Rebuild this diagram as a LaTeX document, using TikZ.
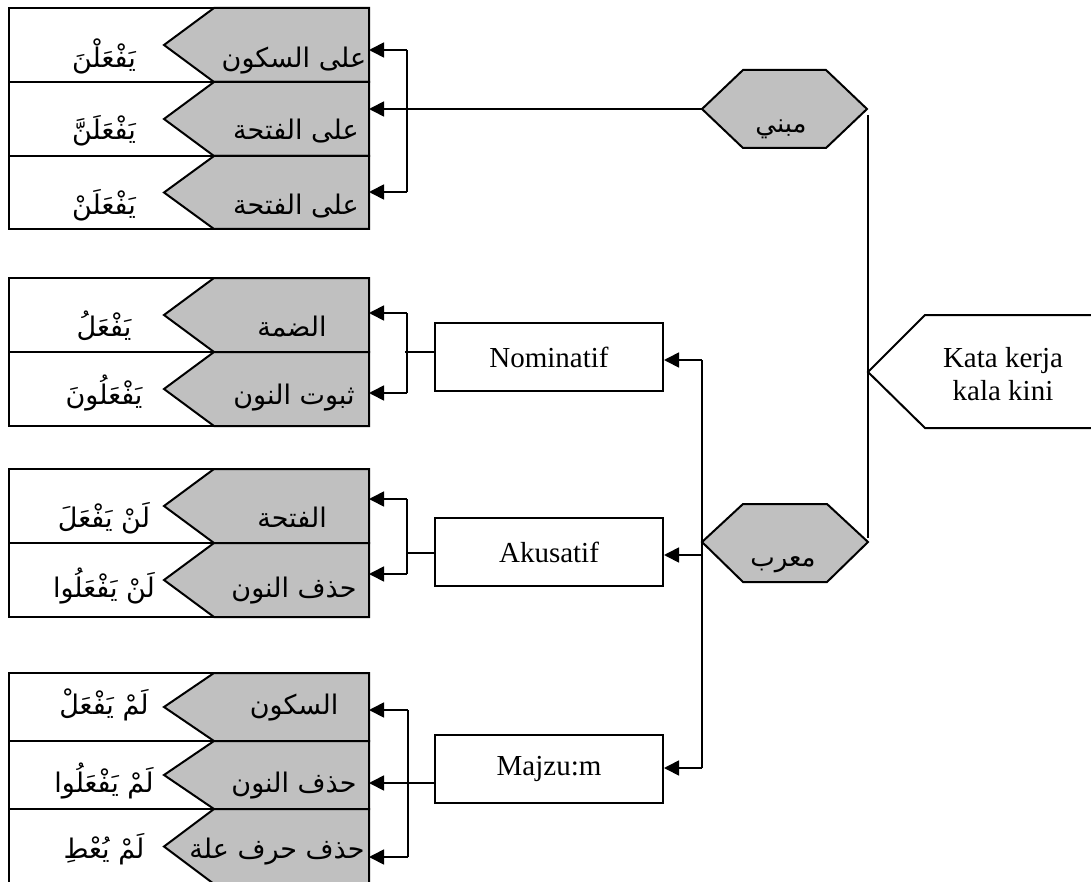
\documentclass[tikz,border=0pt]{standalone}
\usepackage{fontspec}
\setmainfont{Liberation Serif}
\newfontfamily\arabicfont[Script=Arabic]{DejaVu Sans}
\TeXXeTstate=1
\usetikzlibrary{arrows.meta}
\definecolor{shade}{RGB}{192,192,192}

\tikzset{
  frame/.style={line width=1pt, draw=black, line join=miter},
  link/.style={line width=0.85pt},
  tip/.style={-{Triangle[length=7.5pt,width=7.5pt]}},
  artext/.style={font=\arabicfont\fontsize{13.5}{15}\selectfont, inner sep=0pt},
  hextext/.style={font=\arabicfont\fontsize{13}{15}\selectfont, inner sep=0pt},
  latext/.style={font=\fontsize{14.5}{16.5}\selectfont, inner sep=0pt},
  box/.style={frame, fill=white, minimum width=114pt, minimum height=34pt, inner sep=0pt, font=\fontsize{14.5}{16.5}\selectfont},
}

% one row: white cell with a grey arrow-shaped label cell
% #1 name, #2 top, #3 bottom, #4 baseline, #5 x of grey text, #6 grey text, #7 white text
\newcommand\arabrow[7]{%
  \draw[frame, fill=white] (9,#2) rectangle (369,#3);
  \draw[frame, fill=shade] (214,#2) -- (369,#2) -- (369,#3) -- (214,#3) -- (164,{(#2+#3)/2}) -- cycle;
  \node[artext, anchor=base] (#1g) at (#5,#4) {#6};
  \node[artext, anchor=base] (#1w) at (104,#4) {#7};
}

\begin{document}
\begin{tikzpicture}[x=0.5pt, y=-0.5pt]
\useasboundingbox (0,0) rectangle (1091,882);

% ---- mabni group ----
\arabrow{a1}{8}{82}{68}{294}{\beginR على السكون\endR}{\beginR يَفْعَلْنَ\endR}
\arabrow{a2}{82}{156}{140}{296}{\beginR على الفتحة\endR}{\beginR يَفْعَلَنَّ\endR}
\arabrow{a3}{156}{229}{214}{296}{\beginR على الفتحة\endR}{\beginR يَفْعَلَنْ\endR}

% ---- nominative group ----
\arabrow{n1}{278}{352}{336}{292}{\beginR الضمة\endR}{\beginR يَفْعَلُ\endR}
\arabrow{n2}{352}{426}{404}{294}{\beginR ثبوت النون\endR}{\beginR يَفْعَلُونَ\endR}

% ---- accusative group ----
\arabrow{k1}{469}{543}{527}{292}{\beginR الفتحة\endR}{\beginR لَنْ يَفْعَلَ\endR}
\arabrow{k2}{543}{617}{597}{294}{\beginR حذف النون\endR}{\beginR لَنْ يَفْعَلُوا\endR}

% ---- jussive group ----
\arabrow{j1}{673}{741}{714}{294}{\beginR السكون\endR}{\beginR لَمْ يَفْعَلْ\endR}
\arabrow{j2}{741}{809}{792}{294}{\beginR حذف النون\endR}{\beginR لَمْ يَفْعَلُوا\endR}
\arabrow{j3}{809}{884}{858}{277}{\beginR حذف حرف علة\endR}{\beginR لَمْ يُعْطِ\endR}

% ---- case boxes ----
\node[box] (nom) at (549,357) {Nominatif};
\node[box] (aku) at (549,552) {Akusatif};
\node[box] (maj) at (549,769) {Majzu:m};

% ---- hexagons ----
\draw[frame, fill=shade] (702,109) coordinate (mabniW) -- (743,70) -- (826,70) -- (867,109) coordinate (mabniE)
  -- (826,148) -- (743,148) -- cycle;
\node[hextext, anchor=base] (mabni) at (781,133) {\beginR مبني\endR};
\draw[frame, fill=shade] (702,542) coordinate (murabW) -- (743,504) -- (827,504) -- (868,542) coordinate (murabE)
  -- (827,582) -- (743,582) -- cycle;
\node[hextext, anchor=base] (murab) at (783,566) {\beginR معرب\endR};

% ---- root pentagon ----
\draw[frame, fill=white] (868,372) coordinate (rootW) -- (925,315) -- (1100,315) -- (1100,428) -- (925,428) -- cycle;
\node[latext, align=center] (root) at (1003,374) {Kata kerja\\kala kini};

% ---- spine joining the two hexagons ----
\coordinate (spT) at (868,115);
\coordinate (spB) at (868,538);
\draw[link] (spT) -- (spB);

% ---- mabni branches ----
\coordinate (a1e) at (369,50);
\coordinate (a2e) at (369,109);
\coordinate (a3e) at (369,192);
\coordinate (abT) at (407,50);
\coordinate (abB) at (407,192);
\draw[link] (abT) -- (abB);
\draw[link, tip] (abT) -- (a1e);
\draw[link, tip] (abB) -- (a3e);
\draw[link, tip] (mabniW) -- (a2e);

% ---- murab to case boxes ----
\coordinate (mbT) at (702,360);
\coordinate (mbB) at (702,768);
\draw[link] (mbT) -- (mbB);
\draw[link, tip] (mbT) -- (nom.east |- mbT);
\draw[link, tip] (702,555) -- (aku.east |- 0,555);
\draw[link, tip] (mbB) -- (maj.east |- mbB);

% ---- nominative branches ----
\coordinate (nbT) at (407,313);
\coordinate (nbB) at (407,393);
\draw[link] (nbT) -- (nbB);
\draw[link, tip] (nbT) -- (369,313);
\draw[link, tip] (nbB) -- (369,393);
\draw[link] (nom.west |- 0,352) -- (405,352);

% ---- accusative branches ----
\coordinate (kbT) at (407,499);
\coordinate (kbB) at (407,574);
\draw[link] (kbT) -- (kbB);
\draw[link, tip] (kbT) -- (369,499);
\draw[link, tip] (kbB) -- (369,574);
\draw[link] (aku.west |- 0,553) -- (407,553);

% ---- jussive branches ----
\coordinate (jbT) at (408,710);
\coordinate (jbB) at (408,857);
\draw[link] (jbT) -- (jbB);
\draw[link, tip] (jbT) -- (369,710);
\draw[link, tip] (jbB) -- (369,857);
\draw[link, tip] (maj.west |- 0,783) -- (369,783);
\end{tikzpicture}
\end{document}
